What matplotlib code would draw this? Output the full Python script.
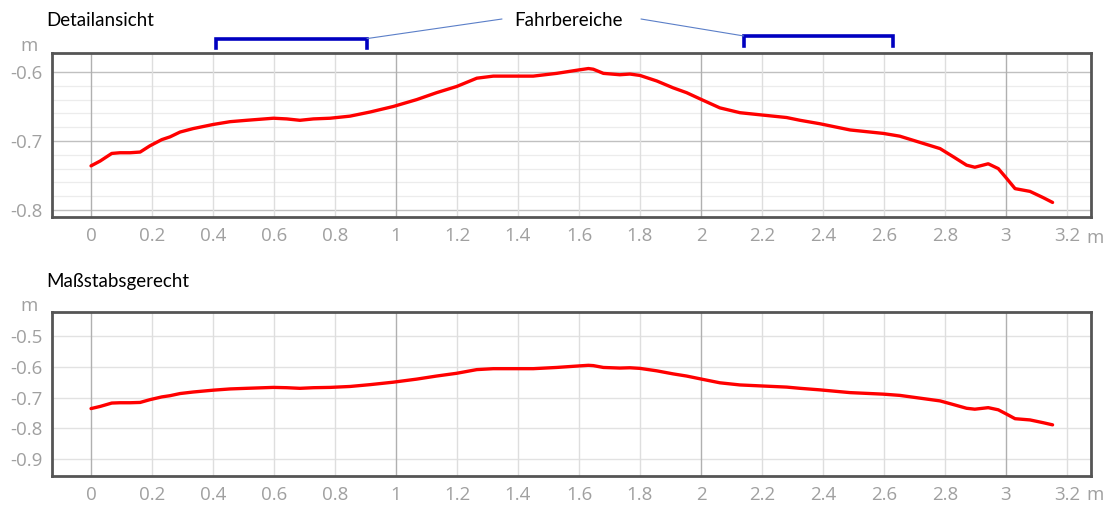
import numpy as np
import matplotlib
matplotlib.use("Agg")
import matplotlib.pyplot as plt
from matplotlib.patches import ConnectionPatch
from matplotlib.lines import Line2D

plt.rcParams['axes.unicode_minus'] = False

# Height profile along the track (distance in m, height in m)
distance = [0.00, 0.03, 0.068, 0.095, 0.128, 0.161, 0.193, 0.232, 0.259, 0.292,
            0.335, 0.401, 0.456, 0.51, 0.598, 0.642, 0.685, 0.729, 0.784, 0.849,
            0.915, 0.991, 1.068, 1.133, 1.199, 1.265, 1.319, 1.396, 1.45, 1.527,
            1.60, 1.631, 1.647, 1.68, 1.734, 1.767, 1.80, 1.855, 1.909, 1.953,
            2.002, 2.062, 2.128, 2.193, 2.281, 2.325, 2.39, 2.456, 2.489, 2.598,
            2.652, 2.74, 2.784, 2.828, 2.871, 2.898, 2.942, 2.975, 3.002, 3.03,
            3.079, 3.122, 3.153]
height = [-0.736, -0.729, -0.718, -0.717, -0.717, -0.716, -0.707, -0.698, -0.694, -0.687,
          -0.682, -0.676, -0.672, -0.670, -0.667, -0.668, -0.670, -0.668, -0.667, -0.664,
          -0.658, -0.650, -0.640, -0.630, -0.621, -0.609, -0.606, -0.606, -0.606, -0.602,
          -0.597, -0.595, -0.596, -0.602, -0.604, -0.603, -0.605, -0.613, -0.623, -0.630,
          -0.640, -0.652, -0.659, -0.662, -0.666, -0.670, -0.675, -0.681, -0.684, -0.689,
          -0.693, -0.705, -0.711, -0.723, -0.735, -0.738, -0.733, -0.740, -0.754, -0.769,
          -0.773, -0.782, -0.789]

# Driving ranges marked above the detail view (start, end in m)
drive_ranges = [(0.41, 0.905), (2.14, 2.63)]

x_ticks = [0, 0.2, 0.4, 0.6, 0.8, 1, 1.2, 1.4, 1.6, 1.8, 2, 2.2, 2.4, 2.6, 2.8, 3, 3.2]
x_tick_labels = ['0', '0.2', '0.4', '0.6', '0.8', '1', '1.2', '1.4', '1.6', '1.8',
                 '2', '2.2', '2.4', '2.6', '2.8', '3', '3.2']
detail_y_ticks = [-0.6, -0.7, -0.8]
detail_y_minor = [-0.62, -0.64, -0.66, -0.68, -0.72, -0.74, -0.76, -0.78]
scale_y_ticks = [-0.5, -0.6, -0.7, -0.8, -0.9]

W, H = 1108, 505
fig = plt.figure(figsize=(W / 100, H / 100), dpi=100)

TICK_FONT = dict(family=['Open Sans', 'DejaVu Sans'], size=13.5, color='#a0a0a0')
TITLE_FONT = dict(family=['Lato', 'DejaVu Sans'], size=13.5, color='black')


def px_box(left, top, right, bottom):
    return [left / W, 1 - bottom / H, (right - left) / W, (bottom - top) / H]


def style_axes(ax, ylim, yticks, minor_y=None, major_y_color='#c4c4c4'):
    ax.set_xlim(-0.128, 3.279)
    ax.set_ylim(*ylim)
    ax.set_xticks(x_ticks)
    ax.set_xticklabels(x_tick_labels)
    ax.set_yticks(yticks)
    ax.set_yticklabels([f"{v:.1f}" for v in yticks])
    ax.tick_params(length=0, pad=7)
    for lab in ax.get_xticklabels() + ax.get_yticklabels():
        lab.set_fontfamily(TICK_FONT['family'])
        lab.set_fontsize(TICK_FONT['size'])
        lab.set_color(TICK_FONT['color'])
    # grid
    if minor_y:
        for v in minor_y:
            ax.axhline(v, color='#ececec', lw=0.9, zorder=0)
    for v in yticks:
        ax.axhline(v, color=major_y_color, lw=1.0, zorder=0.5)
    for v in x_ticks:
        c = '#b0b0b0' if abs(v - round(v)) < 1e-9 else '#dedede'
        ax.axvline(v, color=c, lw=1.0, zorder=0.6)
    for s in ax.spines.values():
        s.set_color('#555555')
        s.set_linewidth(2.0)


# Detail view
ax1 = fig.add_axes(px_box(52, 53, 1091, 217))
style_axes(ax1, (-0.8101, -0.5725), detail_y_ticks, detail_y_minor, '#c0c0c0')
ax1.plot(distance, height, color='#ff0000', lw=2.4, solid_capstyle='round',
         solid_joinstyle='round', zorder=3)

# True-to-scale view
ax2 = fig.add_axes(px_box(52, 312, 1091, 476))
style_axes(ax2, (-0.9557, -0.4213), scale_y_ticks, None, '#e2e2e2')
ax2.plot(distance, height, color='#ff0000', lw=2.4, solid_capstyle='round',
         solid_joinstyle='round', zorder=3)

# Unit labels
for ytop, ybot in [(46, 238), (306, 495)]:
    fig.text(29 / W, 1 - ytop / H, 'm', ha='center', va='center', **TICK_FONT)
    fig.text(1095 / W, 1 - ybot / H, 'm', ha='center', va='center', **TICK_FONT)

# Titles
fig.text(46 / W, 1 - 20 / H, 'Detailansicht', ha='left', va='center', **TITLE_FONT)
fig.text(46 / W, 1 - 281 / H, 'Maßstabsgerecht', ha='left', va='center', **TITLE_FONT)
fig.text(568 / W, 1 - 20 / H, 'Fahrbereiche', ha='center', va='center', **TITLE_FONT)

# Brackets for the driving ranges
tr = ax1.get_xaxis_transform()
bracket_levels = [(1.088, 1.030), (1.104, 1.043)]
for (x0, x1), (yb, ye) in zip(drive_ranges, bracket_levels):
    ax1.add_line(Line2D([x0, x0, x1, x1], [ye, yb, yb, ye], transform=tr,
                        color='#0000c0', lw=2.6, clip_on=False,
                        solid_joinstyle='miter'))

# Leader lines from the label to the brackets
con1 = ConnectionPatch(xyA=(502 / W, 1 - 19 / H), coordsA=fig.transFigure,
                       xyB=(drive_ranges[0][1], bracket_levels[0][0]), coordsB=tr,
                       color='#5b7fc8', lw=0.8)
con2 = ConnectionPatch(xyA=(641 / W, 1 - 19 / H), coordsA=fig.transFigure,
                       xyB=(drive_ranges[1][0], bracket_levels[1][0]), coordsB=tr,
                       color='#5b7fc8', lw=0.8)
fig.add_artist(con1)
fig.add_artist(con2)

fig.savefig('out.png', dpi=100)
